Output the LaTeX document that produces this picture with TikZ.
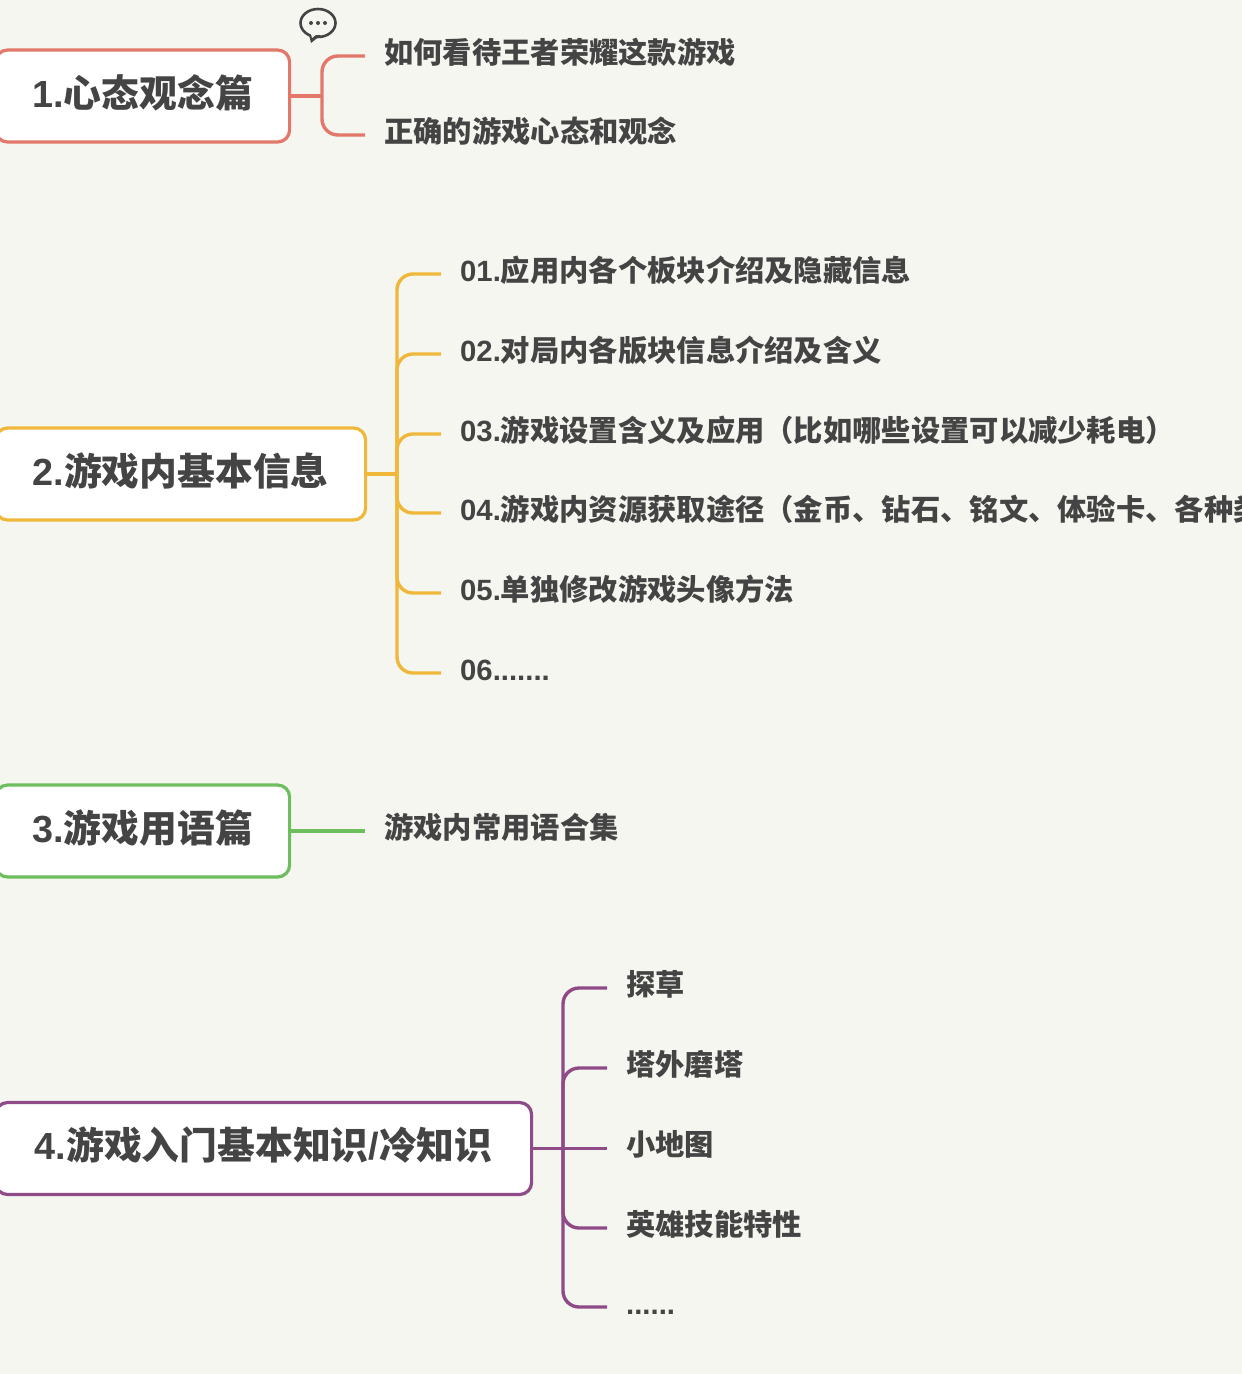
\documentclass[tikz,border=0pt]{standalone}
\usepackage{fontspec}
\setmainfont{Noto Sans CJK SC}
\newfontfamily\latinfont{Liberation Sans}
\definecolor{paper}{HTML}{F6F6F1}
\definecolor{inktext}{HTML}{444444}
\definecolor{redline}{HTML}{E2776A}
\definecolor{yellowline}{HTML}{F0B83A}
\definecolor{greenline}{HTML}{6CBF5C}
\definecolor{purpleline}{HTML}{8F4A88}
\tikzset{
  rootbox/.style={draw, fill=white, line width=3.2pt, rounded corners=12pt, anchor=west,
    minimum height=92pt, inner xsep=0pt, text height=28pt, text depth=6pt,
    text=inktext, font=\fontsize{37.8}{40}\selectfont\bfseries},
  leaf/.style={anchor=west, inner xsep=19pt, inner ysep=0pt, text height=26pt, text depth=12pt,
    text=inktext, font=\fontsize{29.3}{32}\selectfont\bfseries},
  branch/.style={line width=3.4pt, rounded corners=16pt}
}
\begin{document}
\begin{tikzpicture}[x=1pt,y=-1pt]

\clip (0,0) rectangle (1242,1374);
\fill[paper] (0,0) rectangle (1242,1374);

% comment bubble
\draw[line width=2.6pt, inktext, fill=paper] (318,23) ellipse (17.5pt and 14pt);
\fill[inktext] (309,35) -- (321,35) -- (311,43) -- cycle;
\fill[paper] (311,34) -- (317,34) -- (312,38) -- cycle;
\fill[inktext] (311,23) circle (2pt);
\fill[inktext] (318,23) circle (2pt);
\fill[inktext] (325,23) circle (2pt);

% first group
\node[rootbox, draw=redline, minimum width=294pt] (mind) at (-6,96) {{\latinfont 1.}心态观念篇};
\node[leaf] (mindA) at (365,56) {如何看待王者荣耀这款游戏};
\node[leaf] (mindB) at (365,135) {正确的游戏心态和观念};
\coordinate (mindT) at (322,96);
\draw[branch, redline] (mind.east) -- (mindT);
\draw[branch, redline] (mindT) |- (mindA.west);
\draw[branch, redline] (mindT) |- (mindB.west);

% second group
\node[rootbox, draw=yellowline, minimum width=370pt] (info) at (-6,474) {{\latinfont 2.}游戏内基本信息};
\node[leaf] (infoA) at (441,274) {{\latinfont 01.}应用内各个板块介绍及隐藏信息};
\node[leaf] (infoB) at (441,354) {{\latinfont 02.}对局内各版块信息介绍及含义};
\node[leaf] (infoC) at (441,434) {{\latinfont 03.}游戏设置含义及应用（比如哪些设置可以减少耗电）};
\node[leaf] (infoD) at (441,513) {{\latinfont 04.}游戏内资源获取途径（金币、钻石、铭文、体验卡、各种类};
\node[leaf] (infoE) at (441,593) {{\latinfont 05.}单独修改游戏头像方法};
\node[leaf] (infoF) at (441,673) {{\latinfont 06.......}};
\coordinate (infoT) at (397,474);
\draw[branch, yellowline] (info.east) -- (infoT);
\draw[branch, yellowline] (infoT) |- (infoA.west);
\draw[branch, yellowline] (infoT) |- (infoB.west);
\draw[branch, yellowline] (infoT) |- (infoC.west);
\draw[branch, yellowline] (infoT) |- (infoD.west);
\draw[branch, yellowline] (infoT) |- (infoE.west);
\draw[branch, yellowline] (infoT) |- (infoF.west);

% third group
\node[rootbox, draw=greenline, minimum width=294pt] (term) at (-6,831) {{\latinfont 3.}游戏用语篇};
\node[leaf] (termA) at (365,831) {游戏内常用语合集};
\draw[branch, greenline] (term.east) -- (termA.west);

% fourth group
\node[rootbox, draw=purpleline, minimum width=536pt] (basic) at (-6,1148.5) {{\latinfont 4.}游戏入门基本知识{\latinfont /}冷知识};
\node[leaf] (basicA) at (607,988) {探草};
\node[leaf] (basicB) at (607,1068) {塔外磨塔};
\node[leaf] (basicC) at (607,1148.5) {小地图};
\node[leaf] (basicD) at (607,1228) {英雄技能特性};
\node[leaf] (basicE) at (607,1307) {{\latinfont ......}};
\coordinate (basicT) at (563,1148.5);
\draw[branch, purpleline] (basic.east) -- (basicC.west);
\draw[branch, purpleline] (basicT) |- (basicA.west);
\draw[branch, purpleline] (basicT) |- (basicB.west);
\draw[branch, purpleline] (basicT) |- (basicD.west);
\draw[branch, purpleline] (basicT) |- (basicE.west);

\end{tikzpicture}
\end{document}
